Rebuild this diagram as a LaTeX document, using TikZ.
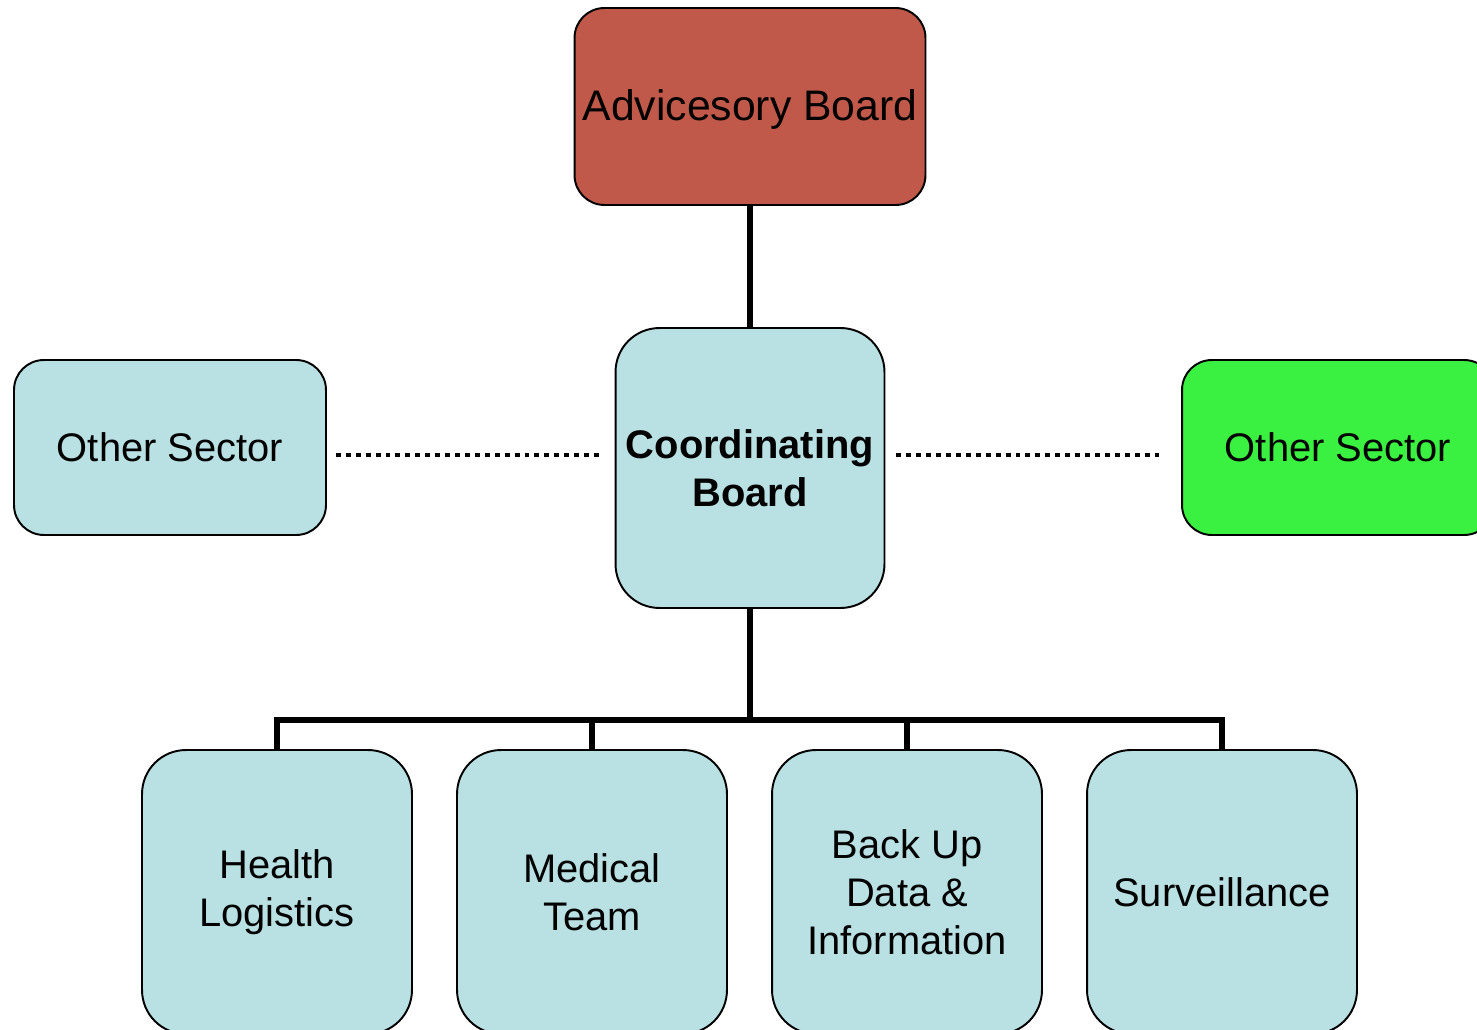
\documentclass[tikz,border=0pt]{standalone}
\usepackage{fontspec}
\setmainfont{Liberation Sans}
\definecolor{boxblue}{RGB}{185,224,227}
\definecolor{boxred}{RGB}{192,89,74}
\definecolor{boxgreen}{RGB}{58,240,64}
\tikzset{
  box/.style={draw=black, line width=1.1pt, rounded corners=#1, align=center,
    font=\fontsize{22.7pt}{27.2pt}\selectfont, inner sep=0pt},
  box/.default=17pt,
  link/.style={line width=2.9pt},
  dotlink/.style={line width=2.4pt, dash pattern=on 2.8pt off 2.85pt},
}
\begin{document}
\begin{tikzpicture}[x=0.02cm,y=-0.02cm]
\clip (0,0) rectangle (1477,1030);
\fill[white] (0,0) rectangle (1477,1030);
% top
\node[box=17pt, fill=boxred, minimum width=7.02cm, minimum height=3.94cm, font=\fontsize{24.3pt}{27.2pt}\selectfont, text depth=0.3ex] (adv) at (750,106.5) {Advicesory Board};
\node[box=25pt, fill=boxblue, minimum width=5.38cm, minimum height=5.6cm, font=\fontsize{22.7pt}{27.2pt}\selectfont\bfseries] (coord) at (750,468) {Coordinating\\Board};
\node[box=17pt, fill=boxblue, minimum width=6.24cm, minimum height=3.5cm] (osl) at (170,447.5) {Other Sector};
\node[box=17pt, fill=boxgreen, minimum width=6.24cm, minimum height=3.5cm] (osr) at (1338,447.5) {Other Sector};
% bottom
\node[box=25pt, fill=boxblue, minimum width=5.4cm, minimum height=5.68cm] (hl) at (277,892) {Health\\Logistics};
\node[box=25pt, fill=boxblue, minimum width=5.4cm, minimum height=5.68cm] (mt) at (592,892) {Medical\\Team};
\node[box=25pt, fill=boxblue, minimum width=5.4cm, minimum height=5.68cm] (bu) at (907,892) {Back Up\\Data \&\\Information};
\node[box=25pt, fill=boxblue, minimum width=5.4cm, minimum height=5.68cm] (sv) at (1222,892) {Surveillance};
% connectors
\coordinate (bus) at (750,720);
\coordinate (dl) at (0,455);
\draw[link] (adv.south) -- (coord.north);
\draw[link] (coord.south) -- (bus);
\draw[link] (hl.north) -- (hl.north |- bus) -- (sv.north |- bus) -- (sv.north);
\draw[link] (mt.north) -- (mt.north |- bus);
\draw[link] (bu.north) -- (bu.north |- bus);
\draw[dotlink] ([xshift=0.18cm]osl.east |- dl) -- ([xshift=-0.24cm]coord.west |- dl);
\draw[dotlink] ([xshift=0.22cm]coord.east |- dl) -- ([xshift=-0.38cm]osr.west |- dl);
\end{tikzpicture}
\end{document}
